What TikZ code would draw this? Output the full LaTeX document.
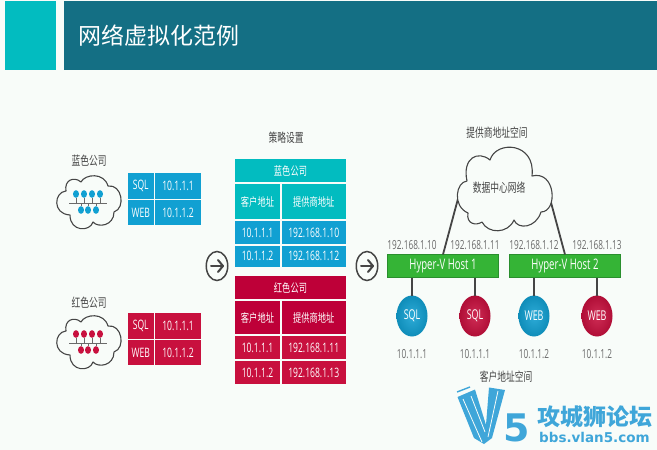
\documentclass[tikz,border=0pt]{standalone}
\usepackage{fontspec}
\usetikzlibrary{shapes.geometric}
\newfontfamily\cjkf[FakeStretch=0.7]{Noto Sans CJK SC}
\newfontfamily\cjkplain{Noto Sans CJK SC}
\newfontfamily\latf[FakeStretch=0.66]{Open Sans}
\newfontfamily\latbold{DejaVu Sans}
\definecolor{bgc}{HTML}{F8FCF9}
\definecolor{tealc}{HTML}{02BCC0}
\definecolor{titlec}{HTML}{146F84}
\definecolor{bluec}{HTML}{11A0D2}
\definecolor{redc}{HTML}{C8103E}
\definecolor{redh}{HTML}{BE0038}
\definecolor{greenc}{HTML}{35B436}
\definecolor{greend}{HTML}{2A8F2E}
\definecolor{logoc}{HTML}{3FA6D9}
\definecolor{inkc}{HTML}{454545}
\definecolor{greyc}{HTML}{6A6A6A}
\newcommand\fs[1]{\fontsize{#1}{#1}\selectfont}
\tikzset{
  band/.style={fill=#1,draw=none,inner sep=0pt,outer sep=0pt},
  cell/.style={fill=#1,draw=none,inner sep=0pt,outer sep=0pt,text=white,font=\latf\fs{13}},
  cjkcell/.style={cell=#1,font=\cjkf\fs{11.8}},
  captext/.style={text=inkc,inner sep=0pt,font=\cjkf\fs{12.5}},
  ipl/.style={text=greyc,inner sep=0pt,font=\latf\fs{12.5}},
  hostbox/.style={fill=greenc,draw=greend,line width=.8pt,inner sep=0pt,outer sep=0pt,
     minimum width=111pt,minimum height=23pt,text=white,font=\latf\fs{14.5}},
  vm/.style={ellipse,inner color=#1!88!white,outer color=#1!88!black,draw=none,inner sep=0pt,outer sep=0pt,minimum width=31pt,
     minimum height=41pt,text=white,font=\latf\fs{13.5}},
  wire/.style={draw=inkc,line width=1.8pt},
  cloudline/.style={draw=inkc,line width=1.1pt,fill=bgc,line join=round},
  hub/.style={ellipse,draw=inkc,line width=1.5pt,fill=bgc,minimum width=21.5pt,minimum height=29pt,inner sep=0pt},
  hubarrow/.style={draw=inkc,line width=2pt,line cap=round,line join=round},
  netline/.style={draw=greyc,line width=.9pt},
  dot/.style={ellipse,fill=#1,draw=none,inner sep=0pt,minimum width=6pt,minimum height=7.6pt},
}
\newcommand\tcell[7]{\node[#1] (#2) at ({(#3+#5)/2},{(#4+#6)/2}) [minimum width={(#5-#3)*1pt},minimum height={(#6-#4)*1pt}] {#7};}
\newcommand\hubicon[3]{\node[hub] (#1) at (#2,#3) {};
  \draw[hubarrow] ([xshift=-6pt]#1.center) -- ([xshift=6pt]#1.center);
  \draw[hubarrow] ([xshift=1pt,yshift=6pt]#1.center) -- ([xshift=6pt]#1.center) -- ([xshift=1pt,yshift=-6pt]#1.center);}
\newcommand\netcloud[2]{% #1 colour, #2 vertical shift
 \begin{scope}[shift={(0,#2)}]
  \draw[cloudline] (66,191) .. controls (64,180) and (74,176) .. (81,182)
     .. controls (85,174) and (104,172) .. (108,186)
     .. controls (122,184) and (126,208) .. (114,212)
     .. controls (114,226) and (98,228) .. (93,222)
     .. controls (90,232) and (70,232) .. (70,215)
     .. controls (52,214) and (54,192) .. (66,191) -- cycle;
  \coordinate (#1L) at (69,203); \coordinate (#1R) at (107,203);
  \draw[netline] (#1L) -- (#1R);
  \foreach \x in {76,84,92,100}{\node[dot=#1] (#1t\x) at (\x,194) {}; \draw[netline] (#1t\x) -- (#1t\x |- #1L);}
  \foreach \x in {81,88,96}{\node[dot=#1] (#1b\x) at (\x,210) {}; \draw[netline] (#1b\x) -- (#1b\x |- #1L);}
 \end{scope}}
\begin{document}
\begin{tikzpicture}[x=1pt,y=-1pt]
\useasboundingbox (0,0) rectangle (657,450);
\fill[bgc] (0,0) rectangle (657,450);
% title
\tcell{band=tealc}{tsq}{5}{1}{56}{70}{}
\tcell{band=titlec}{tbar}{64}{1}{657}{70}{}
\node[inner sep=0pt,text=white,font=\cjkplain\fs{23},anchor=west] (ttl) at (78,36) {网络虚拟化范例};
% companies
\node[captext] (lblb) at (89,161) {蓝色公司};
\node[captext] (lblr) at (89,303) {红色公司};
\netcloud{bluec}{0}
\netcloud{redc}{140}
\tcell{cell=bluec}{b1a}{128}{173}{153.5}{198.5}{SQL}
\tcell{cell=bluec}{b1b}{155}{173}{201}{198.5}{10.1.1.1}
\tcell{cell=bluec}{b2a}{128}{200}{153.5}{225}{WEB}
\tcell{cell=bluec}{b2b}{155}{200}{201}{225}{10.1.1.2}
\tcell{cell=redc}{r1a}{128}{313}{153.5}{338.5}{SQL}
\tcell{cell=redc}{r1b}{155}{313}{201}{338.5}{10.1.1.1}
\tcell{cell=redc}{r2a}{128}{340}{153.5}{365}{WEB}
\tcell{cell=redc}{r2b}{155}{340}{201}{365}{10.1.1.2}
\hubicon{hubl}{217}{266}
\hubicon{hubr}{367}{266}
% policy tables
\node[captext] (lblp) at (286,138) {策略设置};
\tcell{cjkcell=tealc}{ph}{235}{159}{346}{182}{蓝色公司}
\tcell{cjkcell=tealc}{pa}{235}{184}{280}{219}{客户地址}
\tcell{cjkcell=tealc}{pb}{281.5}{184}{346}{219}{提供商地址\hspace{4pt}}
\tcell{cell=bluec}{pc}{235}{221}{280}{244}{10.1.1.1}
\tcell{cell=bluec}{pd}{281.5}{221}{346}{244}{192.168.1.10}
\tcell{cell=bluec}{pe}{235}{245.5}{280}{267}{10.1.1.2}
\tcell{cell=bluec}{pf}{281.5}{245.5}{346}{267}{192.168.1.12}
\tcell{cjkcell=redh}{qh}{235}{276}{346}{299}{红色公司}
\tcell{cjkcell=redh}{qa}{235}{301}{280}{334}{客户地址}
\tcell{cjkcell=redh}{qb}{281.5}{301}{346}{334}{提供商地址\hspace{14pt}}
\tcell{cell=redc}{qc}{235}{336}{280}{359}{10.1.1.1}
\tcell{cell=redc}{qd}{281.5}{336}{346}{359}{192.168.1.11}
\tcell{cell=redc}{qe}{235}{361}{280}{384}{10.1.1.2}
\tcell{cell=redc}{qf}{281.5}{361}{346}{384}{192.168.1.13}
% hosts
\node[captext] (lblv) at (497,133) {提供商地址空间};
\node[hostbox] (host1) at (443,266) {Hyper-V Host 1};
\node[hostbox] (host2) at (565,266) {Hyper-V Host 2};
\coordinate (dcl) at (459,195);
\coordinate (dcr) at (549,195);
\draw[wire] (dcl) -- (host1.north);
\draw[wire] (dcr) -- (host2.north);
\draw[cloudline] (467,181) .. controls (462,158) and (478,150) .. (490,160)
  .. controls (496,140) and (536,142) .. (532,176)
  .. controls (556,170) and (558,212) .. (541,212)
  .. controls (536,228) and (518,230) .. (514,220)
  .. controls (508,234) and (488,234) .. (482,222)
  .. controls (476,226) and (466,224) .. (468,213)
  .. controls (452,206) and (456,182) .. (467,181) -- cycle;
\node[captext] (lbld) at (499,188) {数据中心网络};
\node[ipl] (ip1) at (412,245) {192.168.1.10};
\node[ipl] (ip2) at (475,245) {192.168.1.11};
\node[ipl] (ip3) at (534,245) {192.168.1.12};
\node[ipl] (ip4) at (597,245) {192.168.1.13};
\node[vm=bluec] (v1) at (412,316) {SQL};
\node[vm=redc] (v2) at (475,316) {SQL};
\node[vm=bluec] (v3) at (534,316) {WEB};
\node[vm=redc] (v4) at (597,316) {WEB};
\foreach \v/\h in {v1/host1,v2/host1,v3/host2,v4/host2}{\draw[wire] (\v.north) -- (\v.north |- \h.south);}
\node[ipl] (a1) at (412,354) {10.1.1.1};
\node[ipl] (a2) at (475,354) {10.1.1.1};
\node[ipl] (a3) at (534,354) {10.1.1.2};
\node[ipl] (a4) at (597,354) {10.1.1.2};
\node[captext] (lblc) at (506,377) {客户地址空间};
% logo
\fill[logoc] (457.5,397) -- (475,389.5) -- (486,425) -- (489,387.5) -- (505,390) -- (492,438) -- (484,444) -- (474,438) -- cycle;
\draw[bgc,line width=.8pt] (463,399) -- (482,442);
\draw[bgc,line width=.8pt] (471,396) -- (485,432);
\draw[bgc,line width=.8pt] (498,391) -- (488,437);
\draw[logoc,line width=1.4pt] (457,392) -- (470,387);
\node[inner sep=0pt,text=logoc,font=\latbold\bfseries\fs{38}] (five) at (517,428) {5};
\node[inner sep=0pt,text=logoc,font=\cjkplain\bfseries\fs{23},anchor=west] (lg1) at (537,417) {攻城狮论坛};
\node[inner sep=0pt,text=logoc,font=\latbold\bfseries\fs{13.5},anchor=west] (lg2) at (539,437) {bbs.vlan5.com};
\end{tikzpicture}
\end{document}
